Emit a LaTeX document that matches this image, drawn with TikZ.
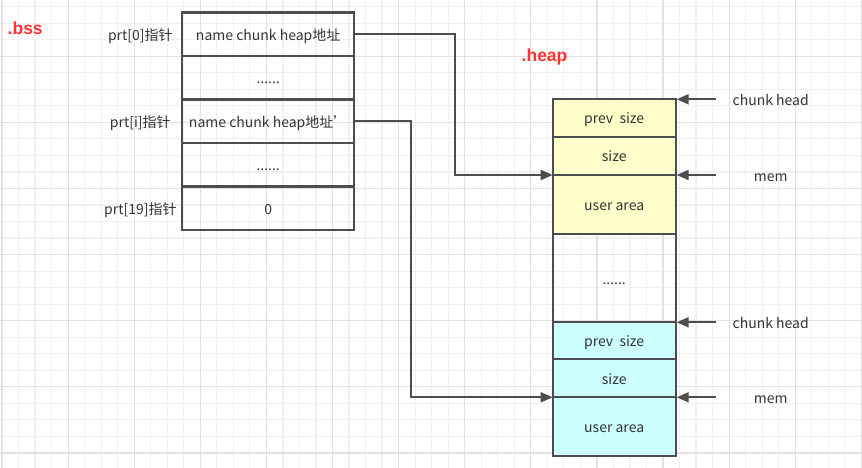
\documentclass[tikz,border=0pt]{standalone}
\usepackage{fontspec}
\setmainfont{Noto Sans CJK SC}
\newfontfamily\sectionfont{Liberation Sans}
\usetikzlibrary{positioning,arrows.meta}
\definecolor{linegray}{HTML}{4D4D4D}
\definecolor{textgray}{HTML}{333333}
\definecolor{labelred}{HTML}{FF3333}
\definecolor{chunkyellow}{HTML}{FFFFCC}
\definecolor{chunkcyan}{HTML}{CCFFFF}
\definecolor{gridminor}{HTML}{F0F0F0}
\definecolor{gridmajor}{HTML}{E2E2E2}
\tikzset{
	slot/.style={
		draw=linegray, line width=2.2pt, rectangle,
		minimum width=171.7pt, minimum height=43.5pt,
		outer sep=0pt, inner sep=0pt, text=textgray,
		text height=12pt, text depth=0pt,
		font=\fontsize{14}{16}\selectfont
	},
	cell/.style={
		draw=linegray, line width=2.2pt, rectangle,
		minimum width=123pt, outer sep=0pt, inner sep=0pt,
		text=textgray, text height=12pt, text depth=0pt,
		font=\fontsize{14}{16}\selectfont
	},
	yellowcell/.style={cell, fill=chunkyellow},
	cyancell/.style={cell, fill=chunkcyan},
	tag/.style={text=textgray, inner sep=0pt, text height=12pt, text depth=0pt,
		font=\fontsize{14}{16}\selectfont},
	section/.style={text=labelred, inner sep=0pt, anchor=base west,
		font=\sectionfont\bfseries\fontsize{17.5}{19}\selectfont},
	ptr_arrow/.style={-{Triangle[length=12pt,width=10pt]}, draw=linegray, line width=2pt}
}

\begin{document}
\begin{tikzpicture}[x=1pt, y=-1pt]
				% background and grid
				\fill[white] (0,0) rectangle (862,468);
				\useasboundingbox (0,0) rectangle (862,468);
				\foreach \i in {0,...,52}
					\draw[gridminor, line width=1.2pt] ({2+16.525*\i},0) -- ({2+16.525*\i},468);
				\foreach \j in {0,...,28}
					\draw[gridminor, line width=1.2pt] (0,{6.7+16.525*\j}) -- (862,{6.7+16.525*\j});
				\foreach \i in {0,...,13}
					\draw[gridmajor, line width=1.2pt] ({2+66.1*\i},0) -- ({2+66.1*\i},468);
				\foreach \j in {0,...,6}
					\draw[gridmajor, line width=1.2pt] (0,{56.3+66.1*\j}) -- (862,{56.3+66.1*\j});
				% .bss pointer table
				\node[section] (bss) at (7.5,34.3) {.bss};
				\node[slot, anchor=north] (slot0) at (268.2,12.5) {name chunk heap地址};
				\node[slot] (dots0) [below=0pt of slot0] {......};
				\node[slot] (sloti) [below=0pt of dots0] {name chunk heap地址'};
				\node[slot] (dots1) [below=0pt of sloti] {......};
				\node[slot] (slot19) [below=0pt of dots1] {0};
				\node[tag] (tag0) [left=42pt of slot0.west, anchor=center] {prt[0]指针};
				\node[tag] (tagi) [left=42pt of sloti.west, anchor=center] {prt[i]指针};
				\node[tag] (tag19) [left=42pt of slot19.west, anchor=center] {prt[19]指针};
				% heap chunks
				\node[section] (heap) at (521.5,61.7) {.heap};
				\node[yellowcell, minimum height=37.4pt, anchor=north] (prevA) at (614.2,99.3) {prev\ \ size};
				\node[yellowcell, minimum height=38.3pt] (sizeA) [below=0pt of prevA] {size};
				\node[yellowcell, minimum height=59.3pt] (userA) [below=0pt of sizeA] {user area};
				\node[cell, minimum height=88pt] (gap) [below=0pt of userA] {......};
				\node[cyancell, minimum height=36.7pt] (prevB) [below=0pt of gap] {prev\ \ size};
				\node[cyancell, minimum height=38.3pt] (sizeB) [below=0pt of prevB] {size};
				\node[cyancell, minimum height=58.7pt] (userB) [below=0pt of sizeB] {user area};
				% right side labels
				\node[tag] (headA) [right=95pt of prevA.north east, anchor=center] {chunk head};
				\node[tag] (memA) [right=95pt of userA.north east, anchor=center] {mem};
				\node[tag] (headB) [right=95pt of prevB.north east, anchor=center] {chunk head};
				\node[tag] (memB) [right=95pt of userB.north east, anchor=center] {mem};
				\coordinate (headAtail) at ([xshift=40pt]prevA.north east);
				\coordinate (memAtail) at ([xshift=40pt]userA.north east);
				\coordinate (headBtail) at ([xshift=40pt]prevB.north east);
				\coordinate (memBtail) at ([xshift=40pt]userB.north east);
				\draw[ptr_arrow, shorten >=1pt] (headAtail) -- (prevA.north east);
				\draw[ptr_arrow, shorten >=1pt] (memAtail) -- (userA.north east);
				\draw[ptr_arrow, shorten >=1pt] (headBtail) -- (prevB.north east);
				\draw[ptr_arrow, shorten >=1pt] (memBtail) -- (userB.north east);
				% pointers into the heap
				\draw[ptr_arrow] (slot0.east) -- ++(100.5,0) |- (userA.north west);
				\draw[ptr_arrow] (sloti.east) -- ++(56.5,0) |- (userB.north west);
			\end{tikzpicture}
\end{document}
